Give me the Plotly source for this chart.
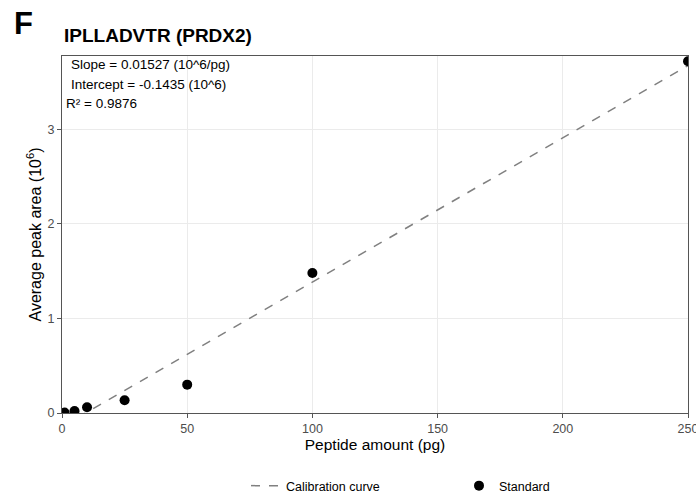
import plotly.graph_objects as go

amount_pg = [1, 5, 10, 25, 50, 100, 250]
peak_area = [0.005, 0.02, 0.06, 0.135, 0.30, 1.48, 3.72]
slope = 0.01527
intercept = -0.1435
r2 = 0.9876
x_ticks = [0, 50, 100, 150, 200, 250]
y_ticks = [0, 1, 2, 3]

line_x = [0, 250]
line_y = [slope * v + intercept for v in line_x]

fig = go.Figure()
fig.add_trace(go.Scatter(x=line_x, y=line_y, mode="lines", name="Calibration curve",
                         line=dict(color="#808080", dash="dash", width=1.5)))
fig.add_trace(go.Scatter(x=amount_pg, y=peak_area, mode="markers", name="Standard",
                         marker=dict(color="black", size=10), cliponaxis=True))

font = "Liberation Sans, Arial, sans-serif"
W, H = 626, 357  # plot area in px
fig.update_layout(
    width=696, height=496,
    margin=dict(l=62, r=8, t=56, b=83, autoexpand=False),
    plot_bgcolor="white", paper_bgcolor="white",
    font=dict(family=font, color="black"),
    showlegend=True,
    legend=dict(orientation="h", x=(246 - 62) / W, xanchor="left", y=-73 / H, yanchor="middle",
                font=dict(size=12.5), entrywidth=168, entrywidthmode="pixels",
                itemwidth=30, traceorder="normal"),
    xaxis=dict(range=[0, 250], tickvals=x_ticks, showgrid=True, gridcolor="#EBEBEB",
               zeroline=False, showline=True, linecolor="#555555", mirror=True,
               ticks="outside", ticklen=4, tickcolor="#555555", automargin=False,
               ticklabeloverflow="allow",
               tickfont=dict(size=12.5, color="#4D4D4D"),
               title=dict(text="Peptide amount (pg)", font=dict(size=15.5), standoff=4)),
    yaxis=dict(range=[0, 3.775], tickvals=y_ticks, showgrid=True, gridcolor="#EBEBEB",
               zeroline=False, showline=True, linecolor="#555555", mirror=True,
               ticks="outside", ticklen=4, tickcolor="#555555", automargin=False,
               tickfont=dict(size=12.5, color="#4D4D4D")),
)

fig.add_annotation(text="Average peak area (10<sup>6</sup>)", xref="paper", yref="paper",
                   x=(34 - 62) / W, y=0.5, xanchor="center", yanchor="middle", textangle=-90,
                   showarrow=False, font=dict(size=16))
fig.add_annotation(text="<b>F</b>", xref="paper", yref="paper", x=(12 - 62) / W, y=1 + 52 / H,
                   xanchor="left", yanchor="top", showarrow=False, font=dict(size=31))
fig.add_annotation(text="<b>IPLLADVTR (PRDX2)</b>", xref="paper", yref="paper", x=0, y=1 + 8 / H,
                   xanchor="left", yanchor="bottom", showarrow=False, font=dict(size=19))
stats = [(f"Slope = {slope} (10^6/pg)", 69, 64),
         (f"Intercept = {intercept} (10^6)", 69, 84),
         (f"R² = {r2}", 64, 103)]
for txt, px, py in stats:
    fig.add_annotation(text=txt, xref="paper", yref="paper", x=(px - 62) / W, y=(413 - py) / H,
                       xanchor="left", yanchor="middle", showarrow=False, font=dict(size=13.5))

fig.write_html("out.html")
